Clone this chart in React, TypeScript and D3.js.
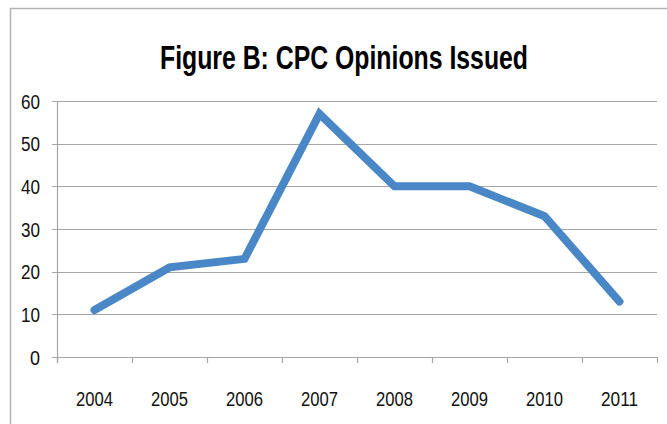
import { useEffect, useRef } from "react";
import * as d3 from "d3";

const years = ["2004", "2005", "2006", "2007", "2008", "2009", "2010", "2011"];
const opinions = [11, 21, 23, 57, 40, 40, 33, 13];
const yTicks = [0, 10, 20, 30, 40, 50, 60];
const title = "Figure B: CPC Opinions Issued";

export default function App() {
    const ref = useRef<SVGSVGElement>(null);

    useEffect(() => {
        const svg = d3.select(ref.current);
        svg.selectAll("*").remove();

        const left = 57, right = 657, top = 101, bottom = 357;
        const grey = "#a6a6a6";
        const font = "'Liberation Sans', Arial, sans-serif";

        const x = d3.scaleBand().domain(years).range([left, right]);
        const y = d3.scaleLinear().domain([0, 60]).range([bottom, top]);

        // outer chart frame (cropped on right and bottom)
        svg.append("path")
            .attr("d", "M10.5,424 L10.5,8.5 L667,8.5")
            .attr("fill", "none")
            .attr("stroke", "#b3b3b3")
            .attr("stroke-width", 1.5);

        svg.append("text")
            .attr("x", 160)
            .attr("y", 69)
            .attr("textLength", 368)
            .attr("lengthAdjust", "spacingAndGlyphs")
            .style("font-family", font)
            .style("font-weight", "bold")
            .style("font-size", "33px")
            .attr("fill", "#000")
            .text(title);

        // gridlines
        svg.append("g")
            .selectAll("line")
            .data(yTicks)
            .join("line")
            .attr("x1", left - 5)
            .attr("x2", right)
            .attr("y1", d => Math.round(y(d)) + 0.5)
            .attr("y2", d => Math.round(y(d)) + 0.5)
            .attr("stroke", grey)
            .attr("stroke-width", 1.2);

        // y axis line
        svg.append("line")
            .attr("x1", left + 0.5).attr("x2", left + 0.5)
            .attr("y1", top).attr("y2", bottom + 6)
            .attr("stroke", grey)
            .attr("stroke-width", 1.2);

        // x ticks at band edges
        const edges = years.map(d => x(d) as number).concat([right]);
        svg.append("g")
            .selectAll("line")
            .data(edges)
            .join("line")
            .attr("x1", d => Math.round(d) + 0.5)
            .attr("x2", d => Math.round(d) + 0.5)
            .attr("y1", bottom)
            .attr("y2", bottom + 6)
            .attr("stroke", grey)
            .attr("stroke-width", 1.2);

        svg.append("g")
            .selectAll("text")
            .data(yTicks)
            .join("text")
            .attr("x", 40)
            .attr("y", d => y(d) + 7.5)
            .attr("text-anchor", "end")
            .attr("textLength", d => (String(d).length === 1 ? 10 : 19))
            .attr("lengthAdjust", "spacingAndGlyphs")
            .style("font-family", font)
            .style("font-size", "20px")
            .attr("fill", "#111")
            .text(d => d);

        svg.append("g")
            .selectAll("text")
            .data(years)
            .join("text")
            .attr("x", d => (x(d) as number) + x.bandwidth() / 2 - 18.5)
            .attr("y", 406)
            .attr("textLength", 37)
            .attr("lengthAdjust", "spacingAndGlyphs")
            .style("font-family", font)
            .style("font-size", "20px")
            .attr("fill", "#111")
            .text(d => d);

        const line = d3.line<number>()
            .x((_, i) => (x(years[i]) as number) + x.bandwidth() / 2)
            .y(d => y(d));

        svg.append("path")
            .datum(opinions)
            .attr("d", line)
            .attr("fill", "none")
            .attr("stroke", "#4a87c6")
            .attr("stroke-width", 8)
            .attr("stroke-linecap", "round")
            .attr("stroke-linejoin", "miter");
    }, []);

    return (
        <svg
            ref={ref}
            width={667}
            height={424}
            style={{ position: "absolute", left: 0, top: 0, background: "#fff" }}
        ></svg>
    );
}
